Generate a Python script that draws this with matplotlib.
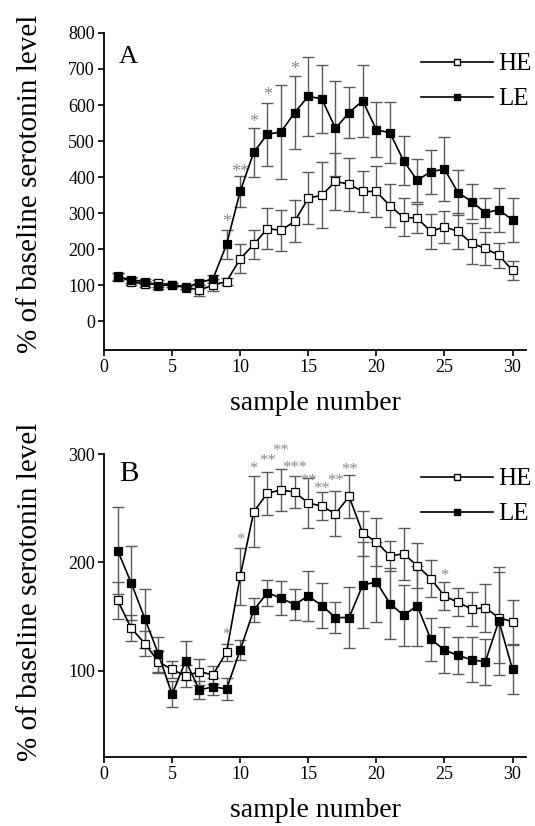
import numpy as np
import matplotlib
matplotlib.use("Agg")
import matplotlib.pyplot as plt
from matplotlib.lines import Line2D

plt.rcParams['font.family'] = ['Liberation Serif', 'DejaVu Serif']

samples = np.arange(1, 31)

# panel A: % of baseline, mean and SEM
he_a = [125, 110, 103, 105, 101, 95, 86, 100, 110, 173, 213, 257, 252, 277, 341,
        350, 388, 380, 360, 360, 320, 288, 286, 249, 262, 249, 216, 202, 183, 141]
he_a_err = [10, 10, 8, 10, 6, 6, 15, 17, 10, 40, 40, 58, 57, 58, 72,
            91, 79, 73, 56, 70, 60, 53, 40, 48, 45, 50, 56, 45, 35, 26]
le_a = [123, 114, 110, 98, 101, 93, 107, 117, 213, 360, 469, 519, 525, 579, 624,
        617, 535, 579, 612, 531, 523, 445, 391, 415, 422, 357, 332, 301, 309, 281]
le_a_err = [12, 8, 8, 8, 5, 5, 8, 10, 41, 42, 68, 87, 130, 102, 110,
            95, 133, 70, 100, 76, 84, 68, 60, 61, 88, 63, 48, 42, 62, 60]

# panel B
he_b = [165, 139, 125, 108, 101, 95, 99, 96, 117, 187, 247, 264, 267, 265, 255,
        252, 245, 261, 227, 219, 206, 208, 197, 185, 169, 163, 157, 158, 149, 145]
he_b_err = [17, 12, 12, 10, 8, 10, 12, 8, 8, 26, 33, 20, 19, 15, 23,
            13, 21, 20, 21, 22, 14, 24, 21, 17, 13, 13, 16, 22, 42, 20]
le_b = [211, 181, 148, 115, 78, 109, 82, 85, 83, 119, 156, 172, 167, 161, 169,
        160, 149, 149, 179, 182, 162, 151, 160, 129, 119, 114, 110, 108, 146, 101]
le_b_err = [40, 34, 27, 16, 12, 18, 8, 8, 10, 9, 11, 12, 16, 14, 23,
            21, 14, 28, 40, 37, 33, 28, 37, 20, 21, 17, 21, 21, 50, 23]

# significance marks (sample, top of mark, text)
stars_a_x = [9, 10, 11, 12, 14]
stars_a_y = [298, 436, 576, 649, 721]
stars_a_txt = ['*', '**', '*', '*', '*']
stars_b_x = [9, 10, 11, 12, 13, 14, 15, 16, 17, 18, 25]
stars_b_y = [140, 228, 294, 301, 310, 295, 283, 275, 283, 293, 195]
stars_b_txt = ['*', '*', '*', '**', '**', '***', '**', '**', '**', '**', '*']

x_ticks = [0, 5, 10, 15, 20, 25, 30]

fig = plt.figure(figsize=(5.35, 8.26), dpi=100)
ax_a = fig.add_axes([0.1944, 0.5763, 0.789, 0.3838])
ax_b = fig.add_axes([0.1944, 0.0835, 0.789, 0.3665])

ebar_col = '#5a5a5a'
star_col = '#8a8a8a'


def draw_panel(ax, he, he_err, le, le_err):
    ax.errorbar(samples, le, yerr=le_err, fmt='none', ecolor=ebar_col,
                elinewidth=1.0, capsize=4.3, capthick=1.0, zorder=1)
    ax.errorbar(samples, he, yerr=he_err, fmt='none', ecolor=ebar_col,
                elinewidth=1.0, capsize=4.3, capthick=1.0, zorder=1)
    ax.plot(samples, he, color='black', lw=1.2, marker='s', ms=5.5,
            mfc='white', mec='black', mew=0.9, zorder=3)
    ax.plot(samples, le, color='black', lw=1.2, marker='s', ms=5.5,
            mfc='black', mec='black', mew=0.9, zorder=4)
    for side in ['top', 'right']:
        ax.spines[side].set_visible(False)
    for side in ['left', 'bottom']:
        ax.spines[side].set_linewidth(1.3)
    ax.tick_params(direction='out', length=4.5, width=1.2, labelsize=13, pad=2)
    ax.set_xlim(0, 31)
    ax.set_xticks(x_ticks)
    ax.set_xlabel('sample number', fontsize=20, labelpad=11)


draw_panel(ax_a, he_a, he_a_err, le_a, le_a_err)
ax_a.set_ylim(-80, 800)
ax_a.set_yticks(np.arange(0, 801, 100))

draw_panel(ax_b, he_b, he_b_err, le_b, le_b_err)
ax_b.set_ylim(20, 300)
ax_b.set_yticks([100, 200, 300])

for sx, sy, st in zip(stars_a_x, stars_a_y, stars_a_txt):
    ax_a.text(sx, sy, st, ha='center', va='top', fontsize=13, color=star_col)
for sx, sy, st in zip(stars_b_x, stars_b_y, stars_b_txt):
    ax_b.text(sx, sy, st, ha='center', va='top', fontsize=12, color=star_col,
              clip_on=False)

ax_a.text(0.0355, 0.906, 'A', transform=ax_a.transAxes, fontsize=19, va='baseline')
ax_b.text(0.0355, 0.913, 'B', transform=ax_b.transAxes, fontsize=21, va='baseline')

handles = [Line2D([], [], color='black', lw=1.2, marker='s', ms=4.5, mfc='white', mec='black'),
           Line2D([], [], color='black', lw=1.2, marker='s', ms=4.5, mfc='black', mec='black')]
for ax, (lx, ly) in [(ax_a, (0.75, 0.937)), (ax_b, (0.75, 0.955))]:
    ax.legend(handles, ['HE', 'LE'], loc='upper left', bbox_to_anchor=(lx, ly),
              frameon=False, fontsize=18, handlelength=2.9, handletextpad=0.22,
              labelspacing=0.5, borderpad=0, borderaxespad=0, numpoints=1)

ylab = '% of baseline serotonin level'
fig.text(30 / 535, 1 - 184 / 826, ylab, rotation=90, ha='center', va='center', fontsize=21)
fig.text(30 / 535, 1 - 592 / 826, ylab, rotation=90, ha='center', va='center', fontsize=21)

fig.savefig('out.png', dpi=100)
